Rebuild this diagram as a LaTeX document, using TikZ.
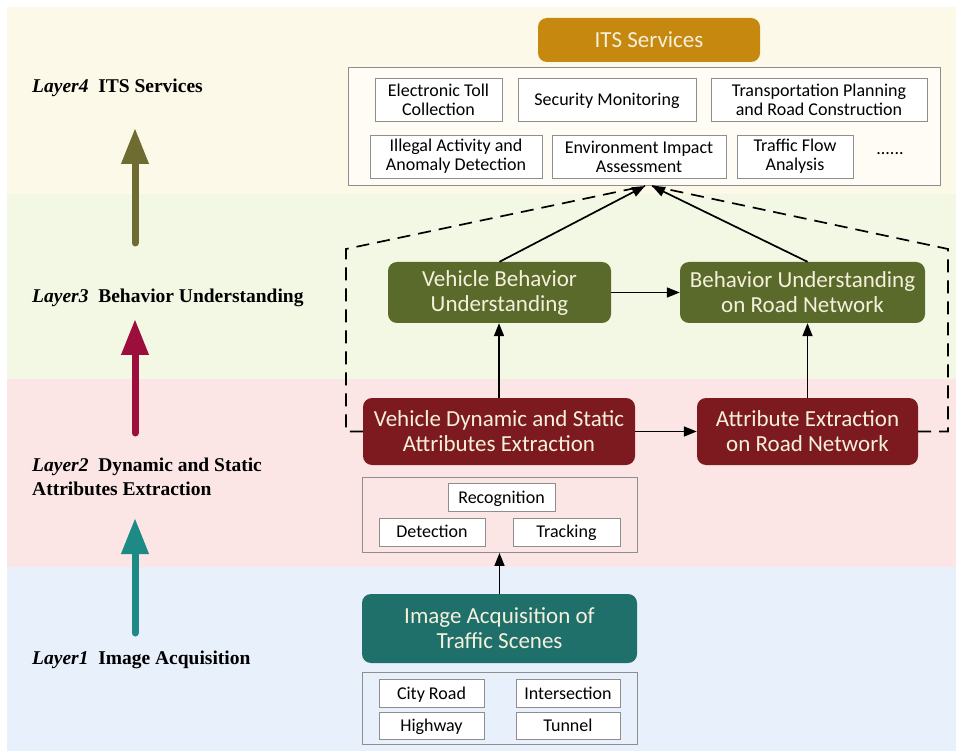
\documentclass[tikz,border=0pt]{standalone}
\usepackage{fontspec}
\setmainfont{Liberation Serif}
\newfontfamily\boxfont{Carlito}
\usetikzlibrary{arrows.meta,calc}
\definecolor{bgcream}{HTML}{FDF9E9}
\definecolor{bggreen}{HTML}{F3F8E5}
\definecolor{bgpink}{HTML}{FCE5E5}
\definecolor{bgblue}{HTML}{E8F0FB}
\definecolor{goldc}{HTML}{C6880F}
\definecolor{olivec}{HTML}{5A6A2B}
\definecolor{redc}{HTML}{7C1A1F}
\definecolor{tealc}{HTML}{1F6F6A}
\definecolor{arrolive}{HTML}{6E6C30}
\definecolor{arrred}{HTML}{9C0F3C}
\definecolor{arrteal}{HTML}{1D8A86}
\definecolor{boxtext}{HTML}{F5F0DC}
\definecolor{graybd}{HTML}{8E8E8E}
\tikzset{
  bigbox/.style={rounded corners=9pt, draw=none, text=boxtext, align=center,
    inner sep=0pt, font=\boxfont\fontsize{23}{25}\selectfont},
  smallbox/.style={draw=graybd, line width=0.9pt, fill=white, align=center,
    inner sep=0pt, font=\boxfont\fontsize{18}{19}\selectfont},
  oneline/.style={text height=13pt, text depth=2pt},
  groupbox/.style={draw=graybd, line width=0.9pt, inner sep=0pt},
  layerlabel/.style={anchor=west, align=left, inner sep=0pt,
    font=\bfseries\fontsize{19.5}{24}\selectfont},
  bigarrow/.style={line width=7pt, line cap=round, -{Triangle[length=36pt,width=26pt]}},
  flow/.style={line width=1.7pt, -{Triangle[length=13pt,width=10pt]}},
  dashflow/.style={line width=1.7pt, dash pattern=on 13pt off 8pt}
}
\begin{document}
\begin{tikzpicture}[x=1pt,y=-1pt]
\useasboundingbox (0,0) rectangle (956,751);
% background bands
\fill[white] (0,0) rectangle (956,751);
\fill[bgcream] (7,7) rectangle (956,194);
\fill[bggreen] (7,194) rectangle (956,379);
\fill[bgpink] (7,379) rectangle (956,567);
\fill[bgblue] (7,567) rectangle (956,751);

% left labels
\node[layerlabel] (l4) at (32,88) {\textit{Layer4}\ \ ITS Services};
\node[layerlabel] (l3) at (32,298) {\textit{Layer3}\ \ Behavior Understanding};
\node[layerlabel] (l2) at (32,477) {\textit{Layer2}\ \ Dynamic and Static\\Attributes Extraction};
\node[layerlabel] (l1) at (32,660) {\textit{Layer1}\ \ Image Acquisition};

% left arrows
\coordinate (a3s) at (135,243); \coordinate (a3e) at (135,128);
\coordinate (a2s) at (135,433); \coordinate (a2e) at (135,319);
\coordinate (a1s) at (135,633); \coordinate (a1e) at (135,518);
\draw[bigarrow, draw=arrolive, fill=arrolive] (a3s) -- (a3e);
\draw[bigarrow, draw=arrred, fill=arrred] (a2s) -- (a2e);
\draw[bigarrow, draw=arrteal, fill=arrteal] (a1s) -- (a1e);

% Layer 4
\node[bigbox, fill=goldc, minimum width=222pt, minimum height=44pt] (its) at (649,40) {ITS Services};
\node[groupbox, fill=white!55!bgcream, minimum width=592pt, minimum height=118pt] (svc) at (644,126) {};
\node[smallbox, minimum width=127pt, minimum height=43pt] (etc) at (438.5,100) {Electronic Toll\\Collection};
\node[smallbox, oneline, minimum width=178pt, minimum height=43pt] (sec) at (607,100) {Security Monitoring};
\node[smallbox, minimum width=216pt, minimum height=43pt] (tra) at (819,100) {Transportation Planning\\and Road Construction};
\node[smallbox, minimum width=172pt, minimum height=43pt] (ill) at (456,156.5) {Illegal Activity and\\Anomaly Detection};
\node[smallbox, minimum width=174pt, minimum height=43pt] (env) at (639,156.5) {Environment Impact\\Assessment};
\node[smallbox, minimum width=116pt, minimum height=43pt] (tfa) at (795,156.5) {Traffic Flow\\Analysis};
\node[inner sep=0pt, font=\boxfont\fontsize{18}{19}\selectfont] (dots) at (890,154) {......};

% Layer 3
\node[bigbox, fill=olivec, minimum width=223pt, minimum height=61pt] (vbu) at (499.5,292.5) {Vehicle Behavior\\Understanding};
\node[bigbox, fill=olivec, minimum width=245pt, minimum height=61pt] (bun) at (802.5,292.5) {Behavior Understanding\\on Road Network};

% Layer 2
\node[bigbox, fill=redc, minimum width=272pt, minimum height=67pt] (vds) at (499,431.5) {Vehicle Dynamic and Static\\Attributes Extraction};
\node[bigbox, fill=redc, minimum width=221pt, minimum height=67pt] (aer) at (807.5,431.5) {Attribute Extraction\\on Road Network};
\node[groupbox, minimum width=275pt, minimum height=75pt] (det) at (499.5,515) {};
\node[smallbox, oneline, minimum width=107pt, minimum height=28pt] (rec) at (501.5,497.5) {Recognition};
\node[smallbox, oneline, minimum width=106pt, minimum height=28pt] (dtc) at (432,532) {Detection};
\node[smallbox, oneline, minimum width=107pt, minimum height=28pt] (trk) at (566.5,532) {Tracking};

% Layer 1
\node[bigbox, fill=tealc, minimum width=275pt, minimum height=69pt] (iaq) at (499.5,628.5) {Image Acquisition of\\Traffic Scenes};
\node[groupbox, minimum width=275pt, minimum height=72pt] (scn) at (499.5,708) {};
\node[smallbox, oneline, minimum width=105pt, minimum height=28pt] (cty) at (431.5,693.5) {City Road};
\node[smallbox, oneline, minimum width=104pt, minimum height=28pt] (int) at (568,693.5) {Intersection};
\node[smallbox, oneline, minimum width=105pt, minimum height=27pt] (hwy) at (431.5,726) {Highway};
\node[smallbox, oneline, minimum width=104pt, minimum height=27pt] (tun) at (568,726) {Tunnel};

% connectors
\coordinate (tipL) at (645,186);
\coordinate (tipR) at (652,186);
\coordinate (dl1) at (346,431.5);
\coordinate (dl2) at (346,249);
\coordinate (dr1) at (948,431.5);
\coordinate (dr2) at (948,249);
\draw[dashflow] (vds.west) -- (dl1) -- (dl2) -- (tipL);
\draw[dashflow] (aer.east) -- (dr1) -- (dr2) -- (tipR);
\draw[flow] (vbu.north) -- (tipL);
\draw[flow] (bun.north -| aer.north) -- (tipR);
\draw[flow] (vbu.east) -- (bun.west);
\draw[flow] (vds.north) -- (vbu.south -| vds.north);
\draw[flow] (aer.north) -- (bun.south -| aer.north);
\draw[flow] (vds.east) -- (aer.west);
\draw[flow] (iaq.north) -- (det.south -| iaq.north);
\end{tikzpicture}
\end{document}
